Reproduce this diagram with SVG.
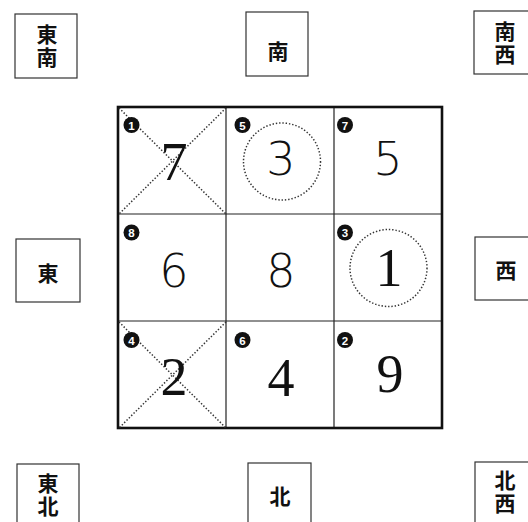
<svg xmlns="http://www.w3.org/2000/svg" width="528" height="522" viewBox="0 0 528 522">
<style>
.lbl{fill:#fff;stroke:#333;stroke-width:1.2}
.lt{font-family:"Noto Sans CJK JP","Noto Sans CJK SC",sans-serif;font-weight:700;font-size:21px;fill:#111;text-anchor:middle;dominant-baseline:central}
.lv{font-family:"Noto Sans CJK JP","Noto Sans CJK SC",sans-serif;font-weight:700;font-size:21px;fill:#111;text-anchor:middle;writing-mode:vertical-rl;letter-spacing:2px}
.grid{fill:none;stroke:#222;stroke-width:1.2}
.outer{fill:none;stroke:#111;stroke-width:2.6}
.dot{fill:none;stroke:#333;stroke-width:1.5;stroke-dasharray:1.4 1.9}
.badge{fill:#111}
.bt{font-family:"Liberation Sans",Arial,sans-serif;font-weight:700;font-size:11.5px;fill:#fff;text-anchor:middle;dominant-baseline:central}
.ns{font-family:"DejaVu Sans","Liberation Sans",sans-serif;font-weight:300;font-size:46px;fill:#111;text-anchor:middle}
.nr{font-family:"Liberation Serif","Times New Roman",serif;font-size:54px;fill:#111;text-anchor:middle}
</style>
<g id="label-se"><rect class="lbl" x="15" y="14" width="62" height="64"/><text class="lv" x="47" y="47">東南</text></g>
<g id="label-s"><rect class="lbl" x="246" y="12" width="62" height="64"/><text class="lt" x="278" y="50">南</text></g>
<g id="label-sw"><rect class="lbl" x="474" y="11" width="62" height="63"/><text class="lv" x="505" y="44">南西</text></g>
<g id="label-e"><rect class="lbl" x="16" y="239" width="64" height="63"/><text class="lt" x="48" y="272">東</text></g>
<g id="label-w"><rect class="lbl" x="475" y="237" width="62" height="63"/><text class="lt" x="506" y="269">西</text></g>
<g id="label-ne"><rect class="lbl" x="17" y="464" width="62" height="64"/><text class="lv" x="48" y="496">東北</text></g>
<g id="label-n"><rect class="lbl" x="248" y="463" width="63" height="64"/><text class="lt" x="280" y="495">北</text></g>
<g id="label-nw"><rect class="lbl" x="475" y="462" width="62" height="64"/><text class="lv" x="505" y="493">北西</text></g>

<g id="grid">
<line class="grid" x1="226" y1="107" x2="226" y2="428"/>
<line class="grid" x1="334" y1="107" x2="334" y2="428"/>
<line class="grid" x1="118" y1="214" x2="442" y2="214"/>
<line class="grid" x1="118" y1="321" x2="442" y2="321"/>
<rect class="outer" x="118" y="107" width="324" height="321"/>
</g>

<g id="cell-1">
<line class="dot" x1="119" y1="108" x2="226" y2="214"/>
<line class="dot" x1="226" y1="108" x2="119" y2="214"/>
<text class="nr" x="174" y="180">7</text>
<circle class="badge" cx="131.5" cy="125" r="8"/><text class="bt" x="131.5" y="125.5">1</text>
</g>
<g id="cell-5">
<circle class="dot" cx="282" cy="161.5" r="38.5"/>
<text class="ns" x="281" y="175">3</text>
<circle class="badge" cx="242.5" cy="125" r="8"/><text class="bt" x="242.5" y="125.5">5</text>
</g>
<g id="cell-7">
<text class="ns" x="388" y="175">5</text>
<circle class="badge" cx="345" cy="125" r="8"/><text class="bt" x="345" y="125.5">7</text>
</g>
<g id="cell-8">
<text class="ns" x="174" y="287">6</text>
<circle class="badge" cx="131.5" cy="232.5" r="8"/><text class="bt" x="131.5" y="233">8</text>
</g>
<g id="cell-c">
<text class="ns" x="281" y="287">8</text>
</g>
<g id="cell-3">
<circle class="dot" cx="388.5" cy="268" r="38.5"/>
<text class="nr" x="389" y="286">1</text>
<circle class="badge" cx="345" cy="232.5" r="8"/><text class="bt" x="345" y="233">3</text>
</g>
<g id="cell-4">
<line class="dot" x1="119" y1="322" x2="226" y2="428"/>
<line class="dot" x1="226" y1="322" x2="119" y2="428"/>
<text class="nr" x="174" y="395">2</text>
<circle class="badge" cx="131.5" cy="340" r="8"/><text class="bt" x="131.5" y="340.5">4</text>
</g>
<g id="cell-6">
<text class="nr" x="281" y="396">4</text>
<circle class="badge" cx="242.5" cy="340" r="8"/><text class="bt" x="242.5" y="340.5">6</text>
</g>
<g id="cell-2">
<text class="nr" x="390" y="392">9</text>
<circle class="badge" cx="345" cy="340" r="8"/><text class="bt" x="345" y="340.5">2</text>
</g>
</svg>
